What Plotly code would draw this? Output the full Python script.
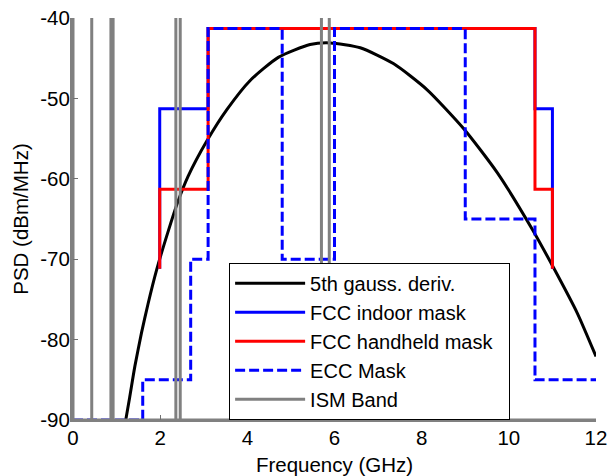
import plotly.graph_objects as go

# ---- data ----
curve_freq = [1.21, 1.30, 1.42, 1.57, 1.72, 1.92, 2.18, 2.41, 2.64, 3.07, 3.53, 4.06,
              4.71, 5.44, 5.90, 6.59, 7.36, 8.12, 8.97, 9.73, 10.54, 11.03, 11.57, 12.0]
curve_psd = [-90.0, -87.2, -83.3, -79.2, -75.6, -71.3, -66.6, -62.8, -59.7, -55.3, -51.4, -47.8,
             -44.9, -43.3, -43.1, -43.7, -45.7, -48.9, -53.8, -59.2, -66.3, -71.1, -76.7, -82.1]

fcc_edges = [1.99, 3.1, 10.6, 11.0]
fcc_indoor_levels = [-51.3, -41.3, -51.3]
fcc_handheld_levels = [-61.3, -41.3, -61.3]
fcc_end_level = -71.2

ecc_edges = [0.0, 1.6, 2.7, 3.1, 4.8, 6.0, 9.0, 10.6, 12.0]
ecc_levels = [-90, -85, -70, -41.3, -70, -41.3, -65, -85]

ism_freqs = [0.0, 0.43, 0.87, 0.92, 2.36, 2.46, 5.70, 5.88]
ism_low, ism_high = -90, -40
x_max = 12.0

x_ticks = [0, 2, 4, 6, 8, 10, 12]
y_ticks = [-90, -80, -70, -60, -50, -40]
y_tick_text = ["-90", "-80", "-70", "-60", "-50", "-40"]

labels = ["5th gauss. deriv.", "FCC indoor mask", "FCC handheld mask", "ECC Mask", "ISM Band"]


def step_path(edges, levels, start=None, end=None):
    xs, ys = [], []
    if start is not None:
        xs.append(edges[0]); ys.append(start)
    for i, lv in enumerate(levels):
        xs += [edges[i], edges[i + 1]]
        ys += [lv, lv]
    if end is not None:
        xs.append(edges[-1]); ys.append(end)
    return xs, ys


fi_x, fi_y = step_path(fcc_edges, fcc_indoor_levels, fcc_end_level, fcc_end_level)
fh_x, fh_y = step_path(fcc_edges, fcc_handheld_levels, fcc_end_level, fcc_end_level)
ecc_x, ecc_y = step_path(ecc_edges, ecc_levels)

ism_x, ism_y = [], []
for f in ism_freqs:
    ism_x += [f, f, f]
    ism_y += [ism_low, ism_high, ism_low]
ism_x.append(x_max); ism_y.append(ism_low)

FONT = "Liberation Sans, Arial, sans-serif"
FS = 20.5
PAD = "\u00a0\u00a0"  # right padding inside the legend box
fig = go.Figure()
fig.add_trace(go.Scatter(x=curve_freq, y=curve_psd, mode="lines", name=labels[0],
                         line=dict(color="black", width=3, shape="spline", smoothing=0.6)))
fig.add_trace(go.Scatter(x=fi_x, y=fi_y, mode="lines", name=labels[1],
                         line=dict(color="#0000ff", width=3)))
fig.add_trace(go.Scatter(x=fh_x, y=fh_y, mode="lines", name=labels[2] + PAD,
                         line=dict(color="#ff0000", width=3)))
fig.add_trace(go.Scatter(x=ecc_x, y=ecc_y, mode="lines", name=labels[3],
                         line=dict(color="#0000ff", width=3, dash="10px,4px")))
fig.add_trace(go.Scatter(x=ism_x, y=ism_y, mode="lines", name=labels[4],
                         line=dict(color="#808080", width=3)))

axis_common = dict(showgrid=False, zeroline=False, ticks="inside", ticklen=5,
                   tickcolor="#707070", tickwidth=1, showline=True, linecolor="#808080",
                   mirror=False, automargin=False, ticklabeloverflow="allow",
                   tickfont=dict(family=FONT, size=FS, color="black"))

fig.update_xaxes(range=[0, 12], tickvals=x_ticks, linewidth=2, ticklabelstandoff=-2,
                 title=dict(text="Frequency (GHz)", font=dict(family=FONT, size=FS, color="black"),
                            standoff=10),
                 **axis_common)
fig.update_yaxes(range=[-90, -40], tickvals=y_ticks, ticktext=y_tick_text, linewidth=3,
                 ticklabelstandoff=-4,
                 title=dict(text="PSD (dBm/MHz)", font=dict(family=FONT, size=FS, color="black"),
                            standoff=7),
                 **axis_common)

fig.update_layout(
    width=608, height=476,
    margin=dict(l=73, r=12, t=18, b=56),
    paper_bgcolor="white", plot_bgcolor="white",
    font=dict(family=FONT, size=FS, color="black"),
    legend=dict(x=0.2985, y=0.391, xanchor="left", yanchor="top",
                bgcolor="white", bordercolor="black", borderwidth=1,
                font=dict(family=FONT, size=20, color="black"),
                itemwidth=70, tracegroupgap=0),
)

# remove the page's default 8px body margin so the figure fills the window exactly
fig.write_html("out.html", config={"displayModeBar": False},
               post_script="document.body.style.margin='0';document.body.style.overflow='hidden';")
